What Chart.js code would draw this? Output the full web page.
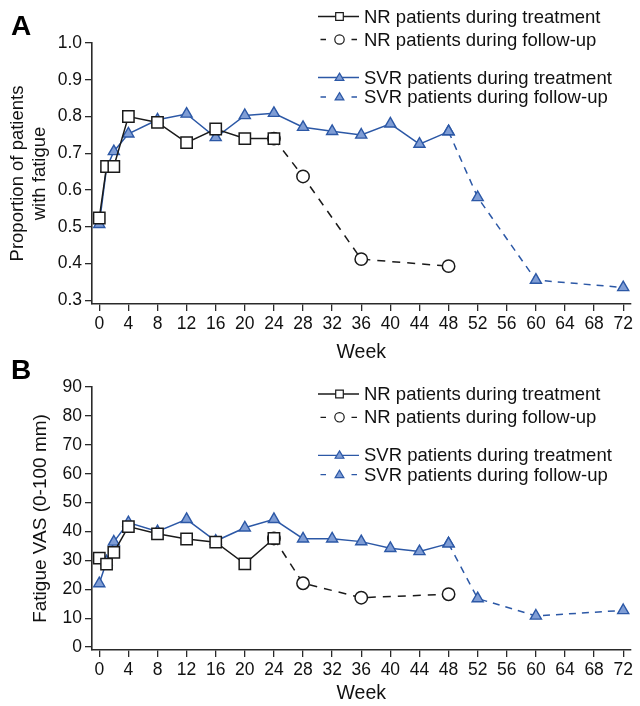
<!DOCTYPE html>
<html><head><meta charset="utf-8">
<script src="https://cdn.jsdelivr.net/npm/chart.js@4.4.1/dist/chart.umd.min.js"></script>
<style>
html,body{margin:0;padding:0;background:#fff;width:640px;height:706px;overflow:hidden;}
.wrap{position:absolute;left:0;width:640px;}
#wa{top:0;height:370px;}
#wb{top:360px;height:346px;}
.lbl{position:absolute;font:bold 28px "Liberation Sans",Arial,sans-serif;line-height:1;color:#000;}
</style></head><body>
<div class="wrap" id="wa"><canvas id="ca" width="640" height="370"></canvas></div>
<div class="wrap" id="wb"><canvas id="cb" width="640" height="346"></canvas></div>
<div class="lbl" style="left:11px;top:12px">A</div>
<div class="lbl" style="left:11px;top:356px">B</div>
<script>
// ---------- data ----------
const weeksNrTreat   = [0,1,2,4,8,12,16,20,24];
const weeksNrFollow  = [24,28,36,48];
const weeksSvrTreat  = [0,1,2,4,8,12,16,20,24,28,32,36,40,44,48];
const weeksSvrFollow = [48,52,60,72];
const xTicks = [0,4,8,12,16,20,24,28,32,36,40,44,48,52,56,60,64,68,72];
const yTicksA = [0.3,0.4,0.5,0.6,0.7,0.8,0.9,1.0];
const yTicksB = [0,10,20,30,40,50,60,70,80,90];

const seriesLabels = ['NR patients during treatment','NR patients during follow-up',
                      'SVR patients during treatment','SVR patients during follow-up'];

// Panel A: proportion of patients with fatigue
const nrTreatA   = [0.524,0.664,0.664,0.800,0.784,0.729,0.766,0.740,0.740];
const nrFollowA  = [0.740,0.637,0.412,0.393];
const svrTreatA  = [0.507,0.660,0.705,0.753,0.791,0.807,0.743,0.803,0.809,0.771,0.760,0.750,0.780,0.725,0.759];
const svrFollowA = [0.759,0.580,0.355,0.335];

// Panel B: fatigue VAS (0-100 mm)
const nrTreatB   = [30.8,28.7,32.8,41.7,39.2,37.4,36.3,28.8,37.6];
const nrFollowB  = [37.6,22.1,17.1,18.3];
const svrTreatB  = [22.0,29.6,36.4,43.1,40.0,44.2,36.7,41.3,44.2,37.5,37.5,36.5,34.2,33.1,35.8];
const svrFollowB = [35.8,16.8,10.8,12.7];

// ---------- styles ----------
const FONT = '"Liberation Sans", Arial, sans-serif';
const BLACK = '#1a1a1a';
const BLUE = '#2c58a6';
const BLUEFILL = '#7f9dd5';
const AXIS = '#2a2a2a';

function pts(xs, ys){ return xs.map((x,i)=>({x:x, y:ys[i]})); }

function makeDatasets(nrT, nrF, svrT, svrF){
  return [
    {label:seriesLabels[0], data:pts(weeksNrTreat,nrT), borderColor:BLACK, borderWidth:1.5,
     pointStyle:'rect', pointRadius:8, pointBackgroundColor:'#fff', pointBorderColor:BLACK, pointBorderWidth:1.5},
    {label:seriesLabels[1], data:pts(weeksNrFollow,nrF), borderColor:BLACK, borderWidth:1.5, borderDash:[8,7],
     pointStyle:'circle', pointRadius:6.2, pointBackgroundColor:'#fff', pointBorderColor:BLACK, pointBorderWidth:1.5},
    {label:seriesLabels[2], data:pts(weeksSvrTreat,svrT), borderColor:BLUE, borderWidth:1.5,
     pointStyle:'triangle', pointRadius:6.4, pointBackgroundColor:BLUEFILL, pointBorderColor:BLUE, pointBorderWidth:1.4},
    {label:seriesLabels[3], data:pts(weeksSvrFollow,svrF), borderColor:BLUE, borderWidth:1.5, borderDash:[7,6],
     pointStyle:'triangle', pointRadius:6.4, pointBackgroundColor:BLUEFILL, pointBorderColor:BLUE, pointBorderWidth:1.4}
  ];
}

function drawMarker(ctx, style, x, y, r, fill, stroke){
  ctx.save();
  ctx.fillStyle = fill; ctx.strokeStyle = stroke; ctx.lineWidth = 1.2; ctx.setLineDash([]);
  ctx.beginPath();
  if (style === 'rect'){ ctx.rect(x-r, y-r, 2*r, 2*r); }
  else if (style === 'circle'){ ctx.arc(x, y, r, 0, Math.PI*2); }
  else {
    const h = r*1.6, w = r*1.9;
    ctx.moveTo(x, y-h*0.6); ctx.lineTo(x+w/2, y+h*0.4); ctx.lineTo(x-w/2, y+h*0.4); ctx.closePath();
  }
  ctx.fill(); ctx.stroke();
  ctx.restore();
}

const legendPlugin = {
  id:'customLegend',
  afterDraw(chart, args, opts){
    const ctx = chart.ctx;
    ctx.save();
    chart.data.datasets.forEach((ds,i)=>{
      const y = opts.rows[i];
      const x0 = opts.x0, x1 = opts.x1, xm = opts.xm;
      ctx.strokeStyle = ds.borderColor; ctx.lineWidth = 1.3; ctx.setLineDash([]);
      ctx.beginPath();
      if (ds.borderDash){
        ctx.moveTo(x0+2.5,y); ctx.lineTo(x0+8,y);
        ctx.moveTo(x1-7.5,y); ctx.lineTo(x1-2,y);
      } else { ctx.moveTo(x0,y); ctx.lineTo(x1,y); }
      ctx.stroke();
      const r = ds.pointStyle==='rect' ? 3.8 : (ds.pointStyle==='circle' ? 4.7 : 4.6);
      drawMarker(ctx, ds.pointStyle, xm, y, r, ds.pointBackgroundColor, ds.pointBorderColor);
      ctx.fillStyle = '#111'; ctx.font = '18.5px ' + FONT;
      ctx.textBaseline = 'middle'; ctx.textAlign = 'left';
      ctx.fillText(ds.label, opts.textX, y + 1);
    });
    ctx.restore();
  }
};

function makeChart(canvasId, datasets, yCfg, pad, xHeight, legendRows){
  return new Chart(document.getElementById(canvasId), {
    type:'line',
    data:{datasets:datasets},
    options:{
      responsive:false, animation:false, devicePixelRatio:1,
      layout:{padding:pad},
      elements:{line:{tension:0, fill:false}},
      plugins:{legend:{display:false}, tooltip:{enabled:false},
        customLegend:{rows:legendRows, x0:318, x1:359, xm:339.5, textX:364}},
      scales:{
        x:{
          type:'linear', min:-1, max:73,
          afterBuildTicks:s=>{ s.ticks = xTicks.map(v=>({value:v})); },
          ticks:{autoSkip:false, maxRotation:0, padding:3, color:'#111', font:{family:FONT, size:17.5}},
          grid:{display:true, drawOnChartArea:false, drawTicks:true, tickLength:7, color:AXIS, lineWidth:1.3},
          border:{display:true, color:AXIS, width:1.6},
          title:{display:true, text:'Week', color:'#111', font:{family:FONT, size:19.5}, padding:{top:0,bottom:1}},
          afterFit:s=>{ s.height = xHeight; }
        },
        y:{
          type:'linear', min:yCfg.min, max:yCfg.max,
          afterBuildTicks:s=>{ s.ticks = yCfg.ticks.map(v=>({value:v})); },
          ticks:{padding:3, color:'#111', font:{family:FONT, size:17.5}, callback:yCfg.fmt},
          grid:{display:true, drawOnChartArea:false, drawTicks:true, tickLength:7, color:AXIS, lineWidth:1.3},
          border:{display:true, color:AXIS, width:1.6},
          title:{display:true, text:yCfg.title, color:'#111', font:{family:FONT, size:yCfg.titleSize}, padding:{top:yCfg.titlePad, bottom:0}},
          afterFit:s=>{ s.width = 85; }
        }
      }
    },
    plugins:[legendPlugin]
  });
}

makeChart('ca', makeDatasets(nrTreatA, nrFollowA, svrTreatA, svrFollowA),
  {min:0.29, max:1.0, ticks:yTicksA, fmt:v=>Number(v).toFixed(1),
   title:['Proportion of patients','with fatigue'], titleSize:18.5, titlePad:0},
  {left:7, top:43, right:9, bottom:5}, 61, [16.5, 39.5, 77.5, 97]);

makeChart('cb', makeDatasets(nrTreatB, nrFollowB, svrTreatB, svrFollowB),
  {min:-1, max:90, ticks:yTicksB, fmt:v=>String(v),
   title:'Fatigue VAS (0-100 mm)', titleSize:19, titlePad:22},
  {left:7, top:27, right:9, bottom:0}, 56, [34, 57.3, 95.3, 114.7]);
</script>
</body></html>
